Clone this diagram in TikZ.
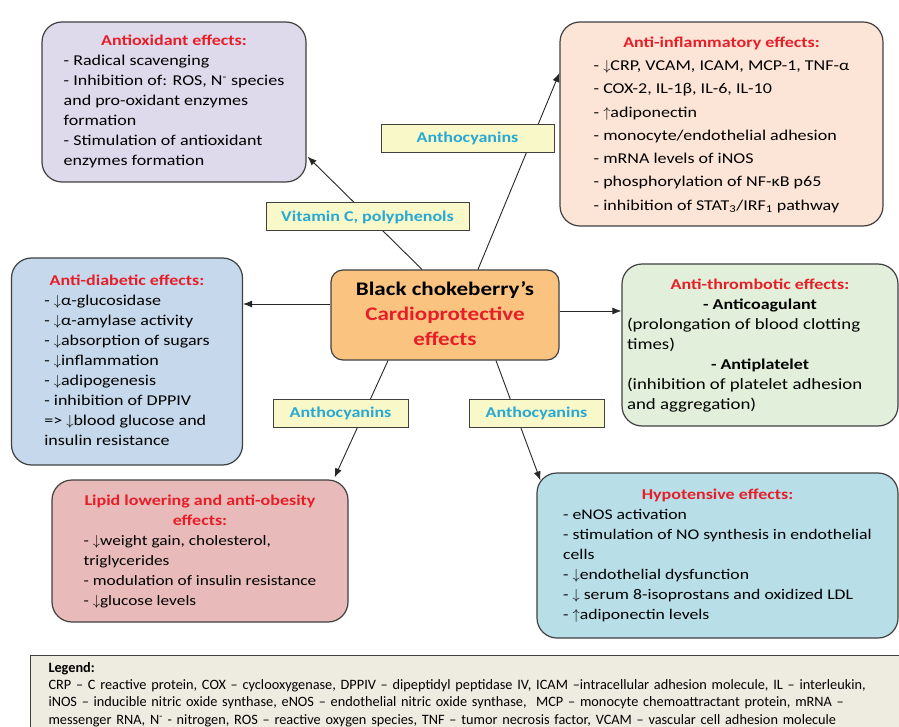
\documentclass[tikz,border=0pt]{standalone}
\usepackage{fontspec}
\setmainfont{Carlito}[FakeStretch=1.2]
\newfontfamily\legendfont{Carlito}
\usetikzlibrary{arrows.meta, positioning}

\definecolor{titlered}{RGB}{230,30,40}
\definecolor{tagblue}{RGB}{40,168,212}
\definecolor{tagfill}{RGB}{248,248,200}
\definecolor{edgegrey}{RGB}{64,64,64}
\definecolor{oxfill}{RGB}{222,217,235}
\definecolor{inflfill}{RGB}{252,228,214}
\definecolor{diabfill}{RGB}{198,216,235}
\definecolor{thrfill}{RGB}{226,239,218}
\definecolor{lipfill}{RGB}{232,186,185}
\definecolor{hypofill}{RGB}{184,222,232}
\definecolor{hubfill}{RGB}{250,196,128}
\definecolor{legfill}{RGB}{238,236,225}

\newcommand{\boxtitle}[1]{\multicolumn{1}{@{}c@{}}{\fontsize{15}{20}\selectfont\bfseries\color{titlered}#1}}
\newcommand{\boxsub}[1]{\multicolumn{1}{@{}c@{}}{\fontsize{15}{20}\selectfont\bfseries #1}}

\tikzset{
    card/.style={draw=edgegrey, line width=1.2pt, rounded corners=20pt, inner sep=0pt,
        font=\fontsize{15}{20}\selectfont},
    hub/.style={draw=edgegrey, line width=1.2pt, rounded corners=12pt, fill=hubfill,
        inner sep=0pt, minimum width=228pt, minimum height=90pt,
        font=\bfseries\fontsize{19.2}{25}\selectfont},
    tag/.style={draw=edgegrey, line width=1pt, fill=tagfill, text=tagblue, inner sep=0pt,
        minimum height=28pt, font=\bfseries\fontsize{15}{16}\selectfont},
    link/.style={draw=black!85, line width=0.9pt, -{Latex[length=9pt, width=7pt]}},
    legendbox/.style={draw=edgegrey, line width=1pt, fill=legfill, text width=866pt,
        align=left, inner xsep=18pt, inner ysep=0pt, minimum height=78pt,
        font=\legendfont\fontsize{14.3}{17.3}\selectfont},
}

\begin{document}
\begin{tikzpicture}[x=1pt, y=-1pt]
    \useasboundingbox (0,0) rectangle (899,727);

    % effect boxes
    \node[card, fill=oxfill, minimum width=264pt, minimum height=160pt] (antiox) at (174,102)
        {\begin{tabular}{@{}l@{}}
            \boxtitle{Antioxidant effects:}\\
            - Radical scavenging\\
            - Inhibition of: ROS, N\textsuperscript{-} species\\
            and pro-oxidant enzymes\\
            formation\\
            - Stimulation of antioxidant\\
            enzymes formation
        \end{tabular}};
    \node[card, fill=inflfill, minimum width=323pt, minimum height=204pt,
        font=\fontsize{15}{23.3}\selectfont] (antiinf) at (721.5,124)
        {\begin{tabular}{@{}l@{}}
            \boxtitle{Anti-inflammatory effects:}\\
            - $\downarrow$CRP, VCAM, ICAM, MCP-1, TNF-α\\
            - COX-2, IL-1β, IL-6, IL-10\\
            - $\uparrow$adiponectin\\
            - monocyte/endothelial adhesion\\
            - mRNA levels of iNOS\\
            - phosphorylation of NF-κB p65\\
            - inhibition of STAT\textsubscript{3}/IRF\textsubscript{1} pathway
        \end{tabular}};
    \node[card, fill=diabfill, minimum width=231pt, minimum height=207pt] (antidiab) at (127,361.5)
        {\begin{tabular}{@{}l@{}}
            \boxtitle{Anti-diabetic effects:}\\
            - $\downarrow$α-glucosidase\\
            - $\downarrow$α-amylase activity\\
            - $\downarrow$absorption of sugars\\
            - $\downarrow$inflammation\\
            - $\downarrow$adipogenesis\\
            - inhibition of DPPIV\\
            => $\downarrow$blood glucose and\\
            insulin resistance
        \end{tabular}};
    \node[card, fill=thrfill, minimum width=276pt, minimum height=162pt,
        font=\fontsize{15.7}{20}\selectfont] (antithromb) at (760,345)
        {\begin{tabular}{@{}p{266pt}@{}}
            \boxtitle{Anti-thrombotic effects:}\\
            \boxsub{- Anticoagulant}\\
            (prolongation of blood clotting\\
            times)\\
            \boxsub{- Antiplatelet}\\
            (inhibition of platelet adhesion\\
            and aggregation)
        \end{tabular}};
    \node[card, fill=lipfill, minimum width=296pt, minimum height=142pt,
        font=\fontsize{14.4}{20}\selectfont] (lipid) at (200,551)
        {\begin{tabular}{@{}l@{}}
            \boxtitle{Lipid lowering and anti-obesity}\\
            \boxtitle{effects:}\\
            - $\downarrow$weight gain, cholesterol,\\
            triglycerides\\
            - modulation of insulin resistance\\
            - $\downarrow$glucose levels
        \end{tabular}};
    \node[card, fill=hypofill, minimum width=361pt, minimum height=165pt,
        font=\fontsize{14.75}{20}\selectfont] (hypo) at (717.5,555.5)
        {\begin{tabular}{@{}l@{}}
            \boxtitle{Hypotensive effects:}\\
            - eNOS activation\\
            - stimulation of NO synthesis in endothelial\\
            cells\\
            - $\downarrow$endothelial dysfunction\\
            - $\downarrow$ serum 8-isoprostans and oxidized LDL\\
            - $\uparrow$adiponectin levels
        \end{tabular}};

    % central box
    \node[hub] (centre) at (445,315)
        {\begin{tabular}{@{}c@{}}
            Black chokeberry’s\\
            \textcolor{titlered}{Cardioprotective}\\
            \textcolor{titlered}{effects}
        \end{tabular}};

    % arrows out of the centre
    \draw[link] ([xshift=-23pt]centre.north) -- ([xshift=1pt, yshift=26pt]antiox.south east);
    \draw[link] ([xshift=33pt]centre.north) -- ([yshift=51pt]antiinf.west);
    \draw[link] ([yshift=11pt]centre.west) -- ([yshift=11pt]centre.west -| antidiab.east);
    \draw[link] ([yshift=4pt]centre.east) -- ([yshift=4pt]centre.east -| antithromb.west);
    \draw[link] ([xshift=-57pt]centre.south) -- ([xshift=-14pt, yshift=2pt]lipid.north east);
    \draw[link] ([xshift=51pt]centre.south) -- ([xshift=4pt, yshift=-8pt]hypo.north west);

    % compound tags sitting on the arrows
    \node[tag, minimum width=173pt] (tagtop) at (467.5,138.5) {Anthocyanins};
    \node[tag, minimum width=203pt] (tagvit) at (367.5,217) {Vitamin C, polyphenols};
    \node[tag, minimum width=135pt] (tagleft) at (340.5,413.5) {Anthocyanins};
    \node[tag, minimum width=135pt] (tagright) at (536.5,413.5) {Anthocyanins};

    % legend
    \node[legendbox, anchor=north west] (legend) at (30,655)
        {\textbf{Legend:}\\
        CRP – C reactive protein, COX – cyclooxygenase, DPPIV – dipeptidyl peptidase IV, ICAM –intracellular adhesion molecule, IL – interleukin,\\
        iNOS – inducible nitric oxide synthase, eNOS – endothelial nitric oxide synthase,\ \ MCP – monocyte chemoattractant protein, mRNA –\\
        messenger RNA, N\textsuperscript{-} - nitrogen, ROS – reactive oxygen species, TNF – tumor necrosis factor, VCAM – vascular cell adhesion molecule};
\end{tikzpicture}
\end{document}
